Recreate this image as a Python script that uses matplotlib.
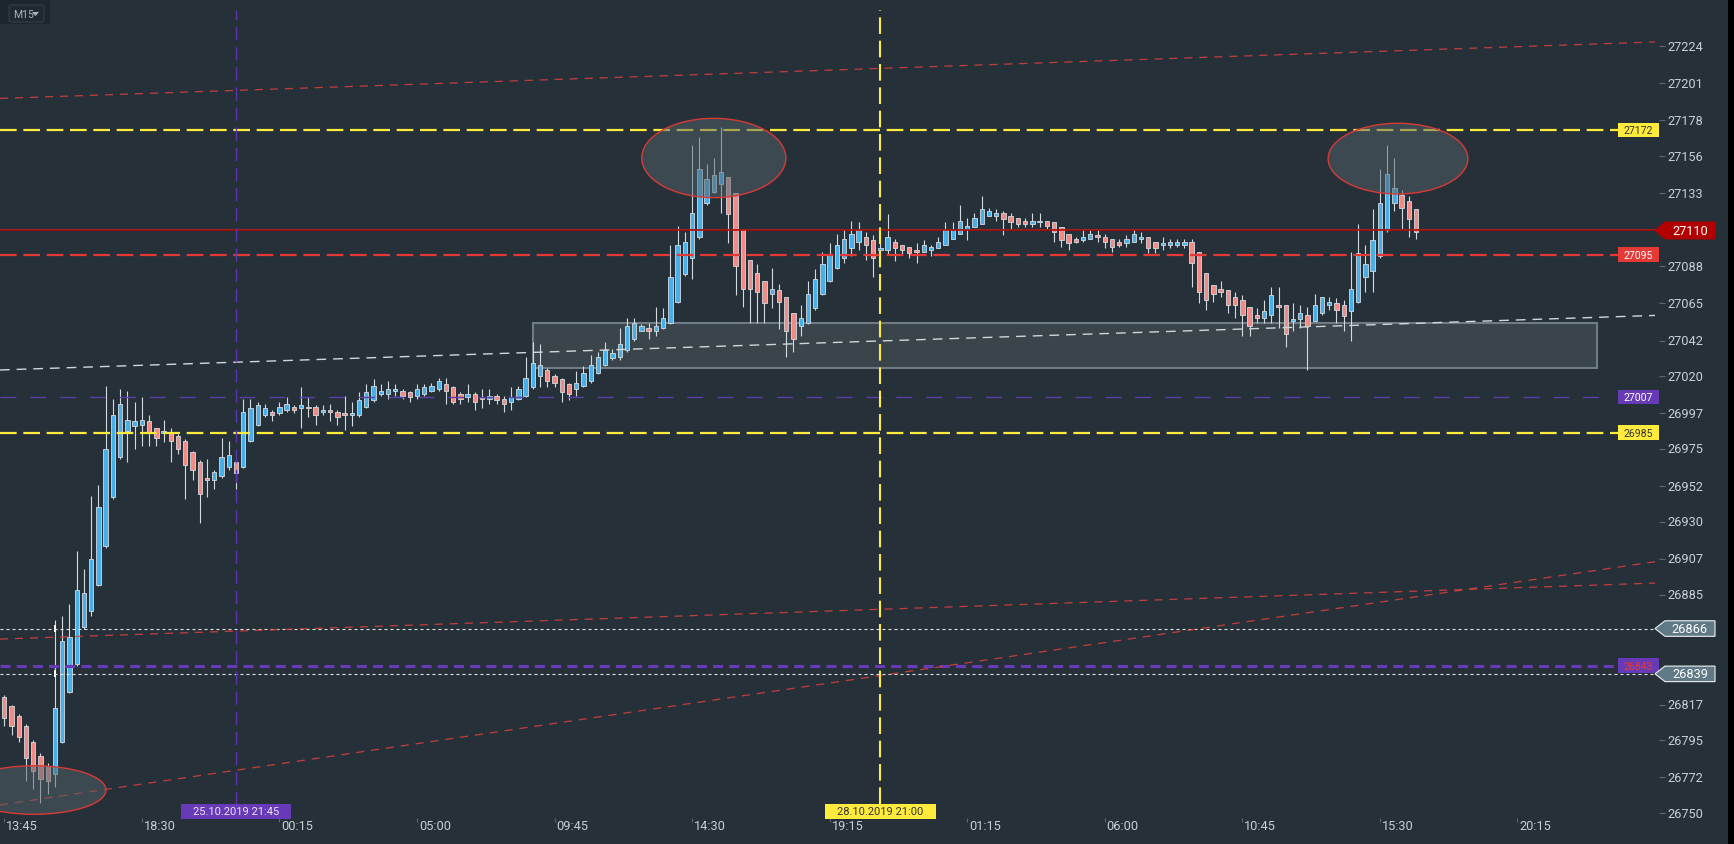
import numpy as np
import matplotlib
matplotlib.use('Agg')
import matplotlib.pyplot as plt
from matplotlib.patches import Rectangle, Ellipse, Polygon, FancyBboxPatch

plt.rcParams['font.family'] = ['Roboto', 'DejaVu Sans']

# M15 candles (index 0 = 13:45)
opens = [26822, 26816, 26810, 26804, 26794, 26785, 26779, 26774, 26794, 26825,
         26842, 26865, 26875, 26891, 26915, 26945, 26970, 26986, 26989, 26990,
         26992, 26988, 26985, 26985, 26983, 26980, 26973, 26967, 26957, 26956,
         26958, 26964, 26967, 26964, 26980, 26990, 26996, 26998, 26997, 26999,
         27001, 27000, 27001, 27001, 26998, 26999, 26998, 26997, 26996, 26996,
         27001, 27005, 27009, 27009, 27011, 27011, 27010, 27008, 27009, 27011,
         27012, 27015, 27013, 27009, 27007, 27009, 27007, 27006, 27008, 27006,
         27004, 27006, 27008, 27013, 27020, 27024, 27020, 27018, 27015, 27012,
         27014, 27017, 27022, 27027, 27031, 27032, 27036, 27043, 27048, 27050,
         27048, 27050, 27053, 27066, 27083, 27093, 27106, 27127, 27134, 27139,
         27143, 27133, 27110, 27092, 27084, 27079, 27071, 27073, 27069, 27059,
         27051, 27053, 27062, 27071, 27079, 27087, 27093, 27099, 27103, 27106,
         27104, 27098, 27098, 27103, 27101, 27100, 27098, 27097, 27098, 27099,
         27101, 27105, 27108, 27111, 27112, 27114, 27119, 27119, 27121, 27119,
         27118, 27116, 27114, 27115, 27116, 27115, 27112, 27108, 27105, 27104,
         27105, 27107, 27106, 27105, 27103, 27102, 27103, 27105, 27106, 27103,
         27101, 27101, 27101, 27101, 27103, 27097, 27084, 27076, 27074, 27073,
         27069, 27067, 27063, 27058, 27056, 27058, 27064, 27064, 27054, 27055,
         27058, 27054, 27059, 27064, 27065, 27064, 27060, 27066, 27081, 27085,
         27094, 27110, 27127, 27132, 27128, 27123]
highs = [26823, 26817, 26811, 26805, 26795, 26787, 26781, 26869, 26872, 26879,
         26912, 26901, 26946, 26953, 27014, 27006, 27012, 27011, 27004, 27007,
         26996, 26988, 26993, 26988, 26984, 26981, 26974, 26968, 26969, 26962,
         26982, 26980, 26968, 27006, 27006, 27004, 27003, 26999, 27004, 27007,
         27002, 27013, 27007, 27002, 27002, 27003, 26999, 27008, 27004, 27010,
         27015, 27018, 27015, 27017, 27015, 27012, 27011, 27015, 27015, 27016,
         27019, 27019, 27014, 27010, 27015, 27010, 27012, 27012, 27009, 27008,
         27013, 27014, 27032, 27041, 27040, 27025, 27021, 27019, 27016, 27023,
         27026, 27033, 27035, 27041, 27037, 27050, 27056, 27056, 27052, 27053,
         27063, 27062, 27101, 27113, 27109, 27163, 27168, 27151, 27155, 27174,
         27143, 27133, 27110, 27092, 27089, 27079, 27087, 27077, 27069, 27059,
         27064, 27079, 27086, 27097, 27102, 27108, 27111, 27116, 27115, 27109,
         27107, 27109, 27120, 27105, 27101, 27100, 27102, 27104, 27101, 27106,
         27115, 27115, 27126, 27118, 27121, 27131, 27124, 27123, 27122, 27121,
         27118, 27118, 27121, 27121, 27116, 27115, 27112, 27108, 27106, 27110,
         27110, 27110, 27108, 27105, 27105, 27107, 27111, 27109, 27106, 27103,
         27106, 27105, 27105, 27105, 27105, 27097, 27084, 27076, 27079, 27073,
         27072, 27070, 27063, 27062, 27067, 27075, 27075, 27064, 27065, 27064,
         27063, 27071, 27069, 27069, 27068, 27067, 27097, 27114, 27101, 27123,
         27148, 27163, 27155, 27135, 27131, 27123]
lows = [26804, 26798, 26794, 26770, 26765, 26756, 26762, 26766, 26793, 26824,
        26841, 26864, 26872, 26890, 26914, 26944, 26969, 26967, 26975, 26977,
        26977, 26977, 26979, 26967, 26972, 26944, 26956, 26929, 26945, 26950,
        26957, 26962, 26950, 26963, 26979, 26989, 26995, 26992, 26996, 26998,
        26997, 26988, 26995, 26990, 26996, 26992, 26990, 26987, 26989, 26995,
        27000, 27004, 27008, 27006, 27008, 27006, 27004, 27006, 27008, 27010,
        27011, 27003, 27003, 27003, 27004, 26999, 27000, 27003, 27003, 26998,
        26999, 27005, 27007, 27012, 27013, 27013, 27013, 27004, 27005, 27008,
        27013, 27016, 27021, 27026, 27030, 27030, 27035, 27042, 27048, 27043,
        27045, 27049, 27052, 27065, 27082, 27080, 27105, 27126, 27133, 27121,
        27102, 27070, 27063, 27053, 27053, 27053, 27062, 27049, 27032, 27035,
        27045, 27052, 27061, 27070, 27078, 27086, 27090, 27094, 27098, 27092,
        27081, 27093, 27095, 27091, 27095, 27093, 27090, 27097, 27094, 27099,
        27101, 27105, 27108, 27104, 27112, 27114, 27119, 27116, 27107, 27111,
        27112, 27112, 27112, 27112, 27111, 27103, 27100, 27098, 27102, 27103,
        27105, 27103, 27099, 27097, 27100, 27100, 27103, 27102, 27096, 27096,
        27098, 27099, 27100, 27099, 27075, 27065, 27061, 27066, 27069, 27059,
        27056, 27045, 27045, 27053, 27053, 27053, 27050, 27038, 27048, 27050,
        27024, 27054, 27058, 27061, 27053, 27048, 27042, 27065, 27072, 27072,
        27093, 27109, 27122, 27111, 27106, 27105]
closes = [26809, 26804, 26797, 26784, 26776, 26771, 26770, 26815, 26856, 26859,
          26888, 26886, 26907, 26939, 26975, 26996, 27003, 26993, 26992, 26993,
          26985, 26982, 26986, 26980, 26975, 26965, 26962, 26947, 26956, 26961,
          26970, 26971, 26960, 26998, 27000, 27002, 27000, 26996, 27001, 27003,
          26999, 27002, 27000, 26996, 26999, 26998, 26995, 26996, 26997, 27005,
          27010, 27014, 27011, 27012, 27012, 27008, 27007, 27012, 27013, 27014,
          27017, 27011, 27004, 27006, 27009, 27004, 27006, 27008, 27005, 27003,
          27007, 27012, 27019, 27028, 27027, 27017, 27016, 27010, 27009, 27016,
          27022, 27027, 27032, 27036, 27034, 27040, 27051, 27053, 27051, 27048,
          27051, 27056, 27081, 27101, 27103, 27121, 27148, 27142, 27144, 27146,
          27120, 27088, 27074, 27074, 27072, 27065, 27074, 27066, 27048, 27043,
          27056, 27071, 27080, 27089, 27095, 27101, 27105, 27108, 27110, 27101,
          27093, 27099, 27106, 27099, 27098, 27096, 27097, 27101, 27100, 27103,
          27110, 27111, 27116, 27113, 27118, 27123, 27122, 27121, 27117, 27115,
          27114, 27114, 27116, 27116, 27113, 27109, 27104, 27102, 27103, 27106,
          27108, 27106, 27103, 27100, 27101, 27105, 27108, 27106, 27099, 27099,
          27102, 27103, 27103, 27103, 27090, 27072, 27067, 27071, 27072, 27064,
          27064, 27058, 27051, 27056, 27060, 27070, 27063, 27046, 27055, 27059,
          27051, 27064, 27069, 27066, 27061, 27057, 27074, 27096, 27089, 27104,
          27127, 27145, 27136, 27124, 27117, 27109]

time_labels = ['13:45', '18:30', '00:15', '05:00', '09:45', '14:30',
               '19:15', '01:15', '06:00', '10:45', '15:30', '20:15']
bars_per_label = 19
# ticks hidden behind the price tags are left out
price_ticks = [27224, 27201, 27178, 27156, 27133, 27088, 27065, 27042,
               27020, 26997, 26975, 26952, 26930, 26907, 26885, 26817, 26795,
               26772, 26750]

# horizontal levels
level_yellow = [27172, 26985]
level_red = 27095
level_purple_thin = 27007
level_purple_thick = 26841
label_purple_thick = '26843'
level_white = [26864, 26836]
label_white = ['26866', '26839']
last_price = 27110

# trend lines: (bar index, price) end points
trend_red_top = [(-0.6, 27191.6), (228.0, 27226.5)]
trend_red_mid = [(-0.6, 26857.5), (228.0, 26892.1)]
trend_red_steep = [(-0.6, 26755.0), (228.0, 26905.3)]
trend_grey = [(-0.6, 27023.8), (228.0, 27057.5)]

zone = (73.0, 220.0, 27025.2, 27053.0)          # bar from, bar to, price low, price high
ellipses = [(98.0, 27154.8, 19.9, 49.0),          # centre bar, centre price, width bars, height price
            (192.5, 27154.4, 19.3, 43.7),
            (4.1, 26764.2, 19.9, 30.0)]
vline_purple = 32
vline_purple_text = '25.10.2019 21:45'
vline_yellow = 121
vline_yellow_text = '28.10.2019 21:00'

bg = '#263039'
blue = '#48b0e8'
red = '#f28a86'
edge = '#d3dadf'
txt = '#c9ced3'

W, H, PW = 1734, 845, 1728
fig = plt.figure(figsize=(W / 100, H / 100), dpi=100, facecolor=bg)
ax = fig.add_axes([0, 0, PW / W, 1])
ax.set_facecolor(bg)
ax.set_xlim(-4.3 / 7.24, (PW - 4.3) / 7.24)
ax.set_ylim(26730.85, 27253.05)
ax.axis('off')
fig.patches.append(Rectangle((PW / W, 0), 1 - PW / W, 1, transform=fig.transFigure,
                             facecolor='black', edgecolor='none'))

ty = ax.get_yaxis_transform()   # axes x, data y
tx = ax.get_xaxis_transform()   # data x, axes y


def fx(px):
    return px / PW


def fy(py):
    return 1 - py / H


# zone rectangle
ax.add_patch(Rectangle((zone[0], zone[2]), zone[1] - zone[0], zone[3] - zone[2],
                       facecolor=(0.30, 0.345, 0.37, 0.5), edgecolor='#6f7c86',
                       lw=1.5, zorder=2))

# candles
idx = np.arange(len(opens))
o = np.array(opens)
c = np.array(closes)
up = c >= o
ax.vlines(idx, lows, highs, color=edge, lw=0.8, zorder=3)
ax.bar(idx, np.maximum(np.abs(c - o), 0.8), bottom=np.minimum(o, c), width=0.6,
       color=np.where(up, blue, red), edgecolor=edge, linewidth=0.6, zorder=4)

# anchor markers of the white lines
for lv in level_white:
    ax.add_patch(Rectangle((6.85, lv - 2.2), 0.3, 4.4, facecolor='white',
                           edgecolor='none', zorder=5))

# horizontal levels
tag_end = fx(1618)
for lv in level_yellow:
    ax.axhline(lv, 0, tag_end, color='#ffeb3b', lw=1.6, ls=(0, (7.5, 3)), zorder=6)
ax.axhline(level_red, 0, tag_end, color='#e53935', lw=1.6, ls=(0, (7.5, 3)), zorder=6)
ax.axhline(level_purple_thin, 0, fx(1608), color='#5a3fa6', lw=1.0,
           ls=(0, (11.5, 10)), zorder=6)
ax.axhline(level_purple_thick, 0, tag_end, color='#673ab7', lw=2.2,
           ls=(0, (3.3, 2)), zorder=6)
for lv in level_white:
    ax.axhline(lv, 0, fx(1656), color='#e6e6e6', lw=0.8, ls=(0, (2.7, 2.7)), zorder=6)
ax.axhline(last_price + 0.9, 0, fx(1656), color='#1f8f5f', lw=0.7, zorder=6)
ax.axhline(last_price, 0, fx(1656), color='#c40000', lw=1.1, zorder=6)

# trend lines
for tl in [trend_red_top, trend_red_mid, trend_red_steep]:
    ax.plot([tl[0][0], tl[1][0]], [tl[0][1], tl[1][1]], color='#e0403c', alpha=0.85,
            lw=0.9, ls=(0, (6.5, 5.5)), zorder=6)
ax.plot([trend_grey[0][0], trend_grey[1][0]], [trend_grey[0][1], trend_grey[1][1]],
        color='#d2d6d9', lw=1.0, ls=(0, (7, 5)), zorder=6)

# ellipses
for ex, ey, ew, eh in ellipses:
    ax.add_patch(Ellipse((ex, ey), ew, eh, facecolor=(0.33, 0.385, 0.41, 0.5),
                         edgecolor='#d93a36', lw=1.0, zorder=7))

# vertical lines
ax.axvline(vline_purple, fy(806), fy(11), color='#5e35b1', lw=1.0,
           ls=(0, (9.5, 5)), zorder=6)
ax.axvline(vline_yellow, fy(805), fy(11), color='#ffeb3b', lw=1.5,
           ls=(0, (8, 3.2)), zorder=6)

# price axis
ax.hlines(price_ticks, fx(1659), fx(1665), transform=ty, color='#5b6770', lw=0.8)
for p in price_ticks:
    ax.text(fx(1667), p, str(p), transform=ty, ha='left', va='center',
            fontsize=9.2, color=txt)


def flat_tag(value, text, face, fg, height=9.0):
    ax.add_patch(Rectangle((fx(1618), value - height / 2), fx(1659) - fx(1618), height,
                           transform=ty, facecolor=face, edgecolor='none', zorder=8))
    ax.text(fx(1638.5), value, text, transform=ty, ha='center', va='center',
            fontsize=7.6, color=fg, zorder=9)


def arrow_tag(value, text, face, line, height=10.4):
    h = height / 2
    pts = [(fx(1655), value), (fx(1665), value + h), (fx(1715), value + h),
           (fx(1715), value - h), (fx(1665), value - h)]
    ax.add_patch(Polygon(pts, closed=True, transform=ty, facecolor=face,
                         edgecolor=line, lw=0.8, zorder=8))
    ax.text(fx(1690), value, text, transform=ty, ha='center', va='center',
            fontsize=9.2, color='white', zorder=9)


for lv in level_yellow:
    flat_tag(lv, str(lv), '#ffeb3b', '#333333')
flat_tag(level_red, str(level_red), '#e53935', 'white')
flat_tag(level_purple_thin, str(level_purple_thin), '#673ab7', 'white')
flat_tag(level_purple_thick, label_purple_thick, '#673ab7', '#e53935')
arrow_tag(last_price, str(last_price), '#b00000', '#b00000')
for lv, lb in zip(level_white, label_white):
    arrow_tag(lv, lb, '#5f7986', '#f0f0f0', height=9.6)

# time axis
tick_idx = np.arange(len(time_labels)) * bars_per_label
ax.vlines(tick_idx, fy(823), fy(819), transform=tx, color='#5b6770', lw=0.8)
for i, lb in zip(tick_idx, time_labels):
    ax.text(i + 0.25, fy(827), lb, transform=tx, ha='left', va='center',
            fontsize=9.2, color=txt)

# date labels of the vertical lines
for vi, vt, face, fg in [(vline_purple, vline_purple_text, '#673ab7', '#ece6f7'),
                         (vline_yellow, vline_yellow_text, '#ffeb3b', '#333333')]:
    ax.add_patch(Rectangle((vi - 7.65, fy(820)), 15.3, fy(805) - fy(820), transform=tx,
                           facecolor=face, edgecolor='none', zorder=8))
    ax.text(vi, fy(812.5), vt, transform=tx, ha='center', va='center',
            fontsize=8, color=fg, zorder=9)

# timeframe box
ax.add_patch(Rectangle((0, fy(25)), fx(50), fy(0) - fy(25), transform=ax.transAxes,
                       facecolor='#1d262c', edgecolor='none', zorder=8))
ax.add_patch(FancyBboxPatch((fx(9), fy(23)), fx(35), fy(6) - fy(23),
                            boxstyle='round,pad=0,rounding_size=0.002',
                            transform=ax.transAxes, facecolor='#1f292f',
                            edgecolor='#333e45', lw=0.8, zorder=9))
ax.text(fx(13), fy(14.5), 'M15', transform=ax.transAxes, ha='left', va='center',
        fontsize=7.5, color='#aab4ba', zorder=10)
ax.add_patch(Polygon([(fx(32), fy(13)), (fx(39), fy(13)), (fx(35.5), fy(17))],
                     closed=True, transform=ax.transAxes, facecolor='#aab4ba',
                     edgecolor='none', zorder=10))

fig.savefig('out.png', dpi=100, facecolor=bg)
